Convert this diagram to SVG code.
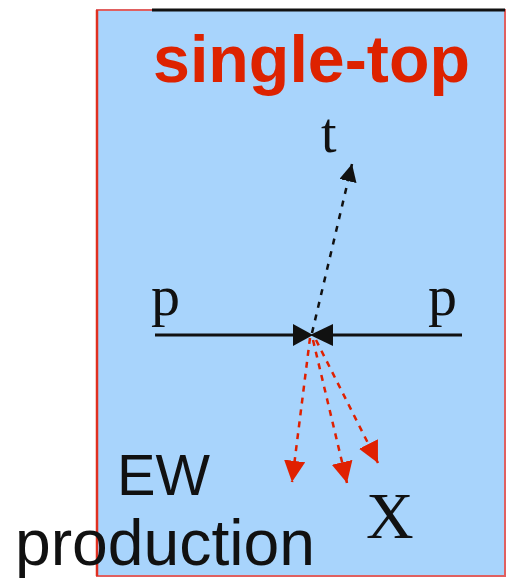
<svg xmlns="http://www.w3.org/2000/svg" width="512" height="580" viewBox="0 0 512 580">
<style>
.serif{font-family:"Liberation Serif","DejaVu Serif",serif;fill:#111}
.sans{font-family:"Liberation Sans","DejaVu Sans",sans-serif}
.beam{stroke:#111;stroke-width:3;fill:none}
.dashk{stroke:#111;stroke-width:2.5;stroke-dasharray:6 7;fill:none}
.dashr{stroke:#e02000;stroke-width:2.5;stroke-dasharray:6 6;fill:none}
</style>
<defs>
<marker id="ak" viewBox="0 0 10 10" refX="10" refY="5" markerWidth="7" markerHeight="7" markerUnits="strokeWidth" orient="auto">
<path d="M0,0 L10,5 L0,10 Z" fill="#111"/>
</marker>
<marker id="ar" viewBox="0 0 10 10" refX="10" refY="5" markerWidth="8.5" markerHeight="8.5" markerUnits="strokeWidth" orient="auto">
<path d="M0,0 L10,5 L0,10 Z" fill="#e02000"/>
</marker>
</defs>
<rect width="512" height="580" fill="#ffffff"/>
<g id="frame">
<rect x="97" y="10" width="408" height="566" fill="#a8d4fc" stroke="#e06060" stroke-width="2"/>
<line x1="152" y1="10" x2="505" y2="10" stroke="#111" stroke-width="3"/>
<line x1="97" y1="10" x2="97" y2="576" stroke="#e03020" stroke-width="2.5"/>
</g>
<g id="title"><text class="sans" x="153" y="82" font-size="66" font-weight="bold" fill="#dd2200" textLength="317" lengthAdjust="spacingAndGlyphs">single-top</text></g>
<g id="label-t"><text class="serif" x="321" y="152" font-size="56">t</text></g>
<g id="label-p-left"><text class="serif" x="151" y="315" font-size="58">p</text></g>
<g id="label-p-right"><text class="serif" x="428" y="315" font-size="58">p</text></g>
<g id="label-X"><text class="serif" x="366" y="538" font-size="66">X</text></g>
<g id="label-ew"><text class="sans" x="117" y="495" font-size="58" fill="#111" textLength="93" lengthAdjust="spacingAndGlyphs">EW</text>
<text class="sans" x="15" y="565" font-size="64" fill="#111" textLength="300" lengthAdjust="spacingAndGlyphs">production</text></g>
<g id="connectors">
<line class="beam" x1="155" y1="335" x2="300" y2="335"/>
<polygon points="293,324 313,335 293,346" fill="#111"/>
<line class="beam" x1="325" y1="335" x2="462" y2="335"/>
<polygon points="333,324 310,335 333,346" fill="#111"/>
<line class="dashk" x1="312" y1="333" x2="352" y2="164" marker-end="url(#ak)"/>
<line class="dashr" x1="310" y1="338" x2="292" y2="482" marker-end="url(#ar)"/>
<line class="dashr" x1="313" y1="340" x2="347" y2="483" marker-end="url(#ar)"/>
<line class="dashr" x1="316" y1="340" x2="378" y2="463" marker-end="url(#ar)"/>
</g>
</svg>
